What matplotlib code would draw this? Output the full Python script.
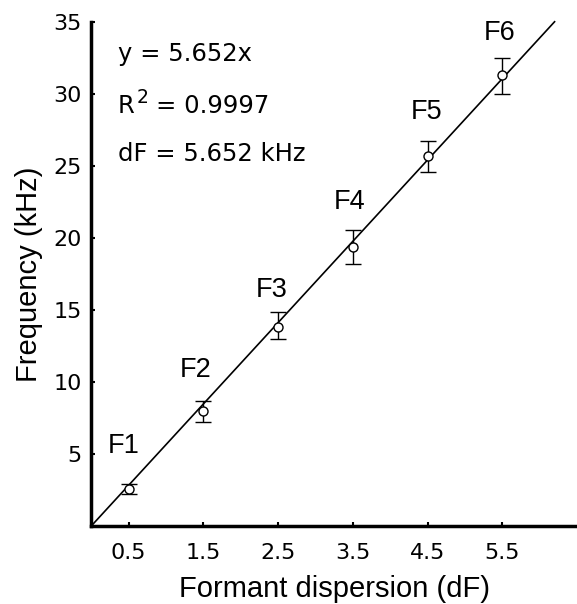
import matplotlib
matplotlib.use("Agg")
import matplotlib.pyplot as plt
import numpy as np

plt.rcParams['font.family'] = ['Liberation Sans', 'DejaVu Sans']

formants = ["F1", "F2", "F3", "F4", "F5", "F6"]
dispersion = [0.5, 1.5, 2.5, 3.5, 4.5, 5.5]
freq_mean = [2.6, 8.0, 13.85, 19.4, 25.7, 31.35]
err_low = [2.2, 7.2, 13.0, 18.2, 24.6, 30.05]
err_high = [2.95, 8.7, 14.85, 20.6, 26.75, 32.5]
label_x = [0.43, 1.40, 2.42, 3.46, 4.49, 5.46]
label_y = [5.07, 10.35, 15.9, 22.0, 28.3, 33.8]
slope = 5.652
fit_x = [0.0, 6.2]
xtick_vals = [0.5, 1.5, 2.5, 3.5, 4.5, 5.5]
ytick_vals = [5, 10, 15, 20, 25, 30, 35]
eq_y = [32.3, 28.7, 25.4]

fig = plt.figure(figsize=(5.77, 6.04), dpi=100)
ax = fig.add_axes([0.158, 0.129, 0.842, 0.834])

fx = np.array(fit_x)
ax.plot(fx, slope * fx, color='black', lw=1.2, clip_on=False, zorder=2)

ym = np.array(freq_mean)
yerr = [ym - np.array(err_low), np.array(err_high) - ym]
ax.errorbar(dispersion, freq_mean, yerr=yerr, fmt='o', mfc='white', mec='black',
            ms=6.5, mew=1.0, ecolor='black', elinewidth=1.0, capsize=6, capthick=1.0,
            zorder=3)

for x, y, lab in zip(label_x, label_y, formants):
    ax.text(x, y, lab, ha='center', va='baseline', fontsize=19.5,
            family=['Liberation Sans', 'DejaVu Sans'])

eqfam = ['DejaVu Sans']
ax.text(0.36, eq_y[0], "y = 5.652x", fontsize=17.5, va='baseline', ha='left', family=eqfam)
ax.text(0.36, eq_y[1], "R", fontsize=17.5, va='baseline', ha='left', family=eqfam)
ax.annotate("2", (0.36, eq_y[1]), xytext=(13, 7), textcoords='offset points',
            fontsize=13.5, va='baseline', ha='left', family=eqfam)
ax.annotate("= 0.9997", (0.36, eq_y[1]), xytext=(27, 0), textcoords='offset points',
            fontsize=17.5, va='baseline', ha='left', family=eqfam)
ax.text(0.36, eq_y[2], "dF = 5.652 kHz", fontsize=17.5, va='baseline', ha='left', family=eqfam)

ax.set_xlim(0, 6.5)
ax.set_ylim(0, 35)
ax.set_xticks(xtick_vals)
ax.set_xticklabels([str(v) for v in xtick_vals])
ax.set_yticks(ytick_vals)
ax.set_yticklabels([str(v) for v in ytick_vals])
ax.tick_params(direction='in', length=3, width=1.5, labelsize=16)
ax.tick_params(axis='x', pad=12)
ax.tick_params(axis='y', pad=7)
for lab in ax.get_xticklabels() + ax.get_yticklabels():
    lab.set_family(['DejaVu Sans'])

for s in ['top', 'right']:
    ax.spines[s].set_visible(False)
for s in ['left', 'bottom']:
    ax.spines[s].set_linewidth(2.5)

ax.set_xlabel("Formant dispersion (dF)", fontsize=21, labelpad=9)
ax.set_ylabel("Frequency (kHz)", fontsize=21, labelpad=7)

fig.savefig("out.png", dpi=100)
